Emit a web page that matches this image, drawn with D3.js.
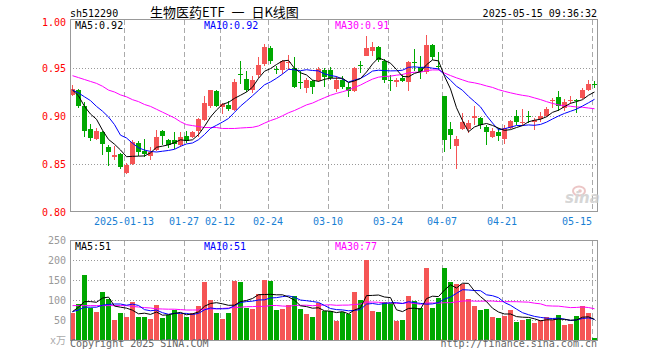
<!DOCTYPE html>
<html>
<head>
<meta charset="utf-8">
<script src="https://cdn.jsdelivr.net/npm/d3@7"></script>
<style>
  body { margin: 0; background: #fff; }
  text { font-family: "DejaVu Sans Mono", monospace; font-size: 10px; }
</style>
</head>
<body>
<div id="kline"></div>
<script>
// trading days shown (2024-12-30 .. 2025-05-15)
var dates = ["12-30","12-31","01-02","01-03","01-06","01-07","01-08","01-09","01-10",
  "01-13","01-14","01-15","01-16","01-17","01-20","01-21","01-22","01-23","01-24",
  "01-27","02-05","02-06","02-07","02-10","02-11","02-12","02-13","02-14",
  "02-17","02-18","02-19","02-20","02-21","02-24","02-25","02-26","02-27","02-28",
  "03-03","03-04","03-05","03-06","03-07","03-10","03-11","03-12","03-13","03-14",
  "03-17","03-18","03-19","03-20","03-21","03-24","03-25","03-26","03-27","03-28",
  "03-31","04-01","04-02","04-03","04-07","04-08","04-09","04-10","04-11",
  "04-14","04-15","04-16","04-17","04-18","04-21","04-22","04-23","04-24","04-25",
  "04-28","04-29","04-30","05-06","05-07","05-08","05-09","05-12","05-13","05-14","05-15"];

var open  = [0.922,0.927,0.910,0.886,0.876,0.883,0.868,0.857,0.860,0.841,
  0.850,0.872,0.864,0.858,0.865,0.884,0.875,0.875,0.870,0.879,
  0.878,0.884,0.896,0.910,0.926,0.909,0.911,0.906,0.944,0.939,
  0.927,0.943,0.954,0.971,0.949,0.948,0.955,0.950,0.935,0.929,
  0.936,0.936,0.948,0.948,0.928,0.938,0.930,0.926,0.953,0.963,
  0.968,0.972,0.957,0.938,0.935,0.940,0.935,0.956,0.951,0.946,
  0.974,0.952,0.921,0.886,0.869,0.886,0.886,0.898,0.898,0.889,
  0.878,0.883,0.876,0.887,0.900,0.893,0.900,0.894,0.897,0.900,
  0.916,0.920,0.908,0.916,0.917,0.919,0.927,0.933];
var high  = [0.932,0.928,0.915,0.892,0.887,0.884,0.870,0.869,0.861,0.851,
  0.875,0.874,0.876,0.868,0.885,0.885,0.876,0.883,0.883,0.884,
  0.884,0.898,0.921,0.927,0.927,0.914,0.916,0.939,0.957,0.947,
  0.942,0.961,0.975,0.973,0.952,0.958,0.964,0.961,0.947,0.940,
  0.938,0.951,0.950,0.951,0.942,0.942,0.934,0.951,0.957,0.983,
  0.977,0.973,0.959,0.943,0.940,0.944,0.957,0.970,0.962,0.984,
  0.975,0.967,0.921,0.894,0.879,0.903,0.896,0.910,0.899,0.891,
  0.887,0.887,0.891,0.896,0.906,0.907,0.905,0.898,0.904,0.909,
  0.919,0.926,0.918,0.921,0.918,0.929,0.937,0.936];
var low   = [0.921,0.908,0.878,0.874,0.875,0.859,0.848,0.854,0.845,0.840,
  0.849,0.858,0.857,0.854,0.864,0.870,0.867,0.866,0.868,0.872,
  0.877,0.878,0.895,0.908,0.909,0.902,0.905,0.905,0.933,0.925,
  0.924,0.940,0.952,0.954,0.944,0.944,0.948,0.929,0.928,0.924,
  0.923,0.935,0.930,0.937,0.925,0.928,0.920,0.925,0.945,0.962,
  0.963,0.956,0.934,0.926,0.930,0.935,0.926,0.947,0.939,0.944,
  0.958,0.948,0.863,0.866,0.845,0.885,0.882,0.891,0.886,0.870,
  0.877,0.874,0.871,0.886,0.891,0.891,0.893,0.885,0.894,0.899,
  0.908,0.905,0.905,0.912,0.903,0.918,0.926,0.929];
var close = [0.928,0.910,0.884,0.877,0.884,0.871,0.862,0.859,0.847,0.849,
  0.873,0.863,0.860,0.863,0.878,0.879,0.870,0.871,0.878,0.874,
  0.883,0.897,0.914,0.927,0.910,0.913,0.907,0.935,0.943,0.927,
  0.938,0.953,0.972,0.957,0.948,0.957,0.956,0.930,0.934,0.937,
  0.930,0.949,0.941,0.940,0.937,0.930,0.926,0.950,0.952,0.971,
  0.972,0.958,0.937,0.937,0.938,0.936,0.956,0.955,0.946,0.974,
  0.961,0.951,0.875,0.880,0.876,0.894,0.893,0.900,0.891,0.883,
  0.884,0.879,0.888,0.895,0.894,0.894,0.899,0.896,0.900,0.907,
  0.917,0.910,0.915,0.917,0.916,0.927,0.933,0.932];

// volume, 万手
var volume = [68,90,162.5,81,70,120.5,102.5,50,67.5,57.5,
  95,57.5,57.5,52.5,87.5,55,62.5,75,65,57.5,
  67,86,146,100,67.5,52.5,67.5,148,145,81,
  77.5,115,150,147.5,75,77.5,87.5,110,77.5,65,
  57.5,92.5,72.5,72.5,47.5,70,65,120,100,200,
  72.5,70,95,92.5,47.5,50,110,97.5,80,180,
  80,105,180,145,140,140,102.5,85,75,77.5,
  57.5,55,60,75,45,50,52.5,42.5,50,57.5,
  50,62.5,37.5,40,60,85,67.5,5];

// moving average values before the window is full
var ma5Head  = [0.927,0.921,0.910,0.902];
var ma10Head = [0.927,0.924,0.920,0.916,0.910,0.905,0.899,0.891,0.880];
var ma30Head = [0.942,0.940,0.938,0.936,0.934,0.931,0.927,0.925,0.922,0.920,
  0.917,0.915,0.912,0.910,0.907,0.904,0.901,0.898,0.894,0.891,
  0.890,0.889,0.888,0.888,0.888,0.887,0.887,0.887,0.8875];
var vma5Head  = [71,82,96,96];
var vma10Head = [71,75,82,82,82,87,89,90,90];
var vma30Head = [86,86,86,86,86,86,86,86,86,86,84,82.5,81,80,78,77.5,77,77,76,75,
  75,75,77,77.5,78,79,80,81,82];

var priceTicks = [0.80, 0.85, 0.90, 0.95, 1.00];
var volTicks = [50, 100, 150, 200, 250];
var xTickDates  = ["01-13","01-27","02-12","02-24","03-10","03-24","04-07","04-21","05-15"];
var xTickLabels = ["2025-01-13","01-27","02-12","02-24","03-10","03-24","04-07","04-21","05-15"];
var priceMaText = ["MA5:0.92","MA10:0.92","MA30:0.91"];
var volMaText = ["MA5:51","MA10:51","MA30:77"];

var W = 660, H = 360;
var left = 70, right = 597;
var RED = "#f55555", GREEN = "#00a800";

function movingAvg(values, n, head) {
  return values.map(function(v, i) {
    if (i < n - 1) return head[i];
    return d3.mean(values.slice(i - n + 1, i + 1));
  });
}

var svg = d3.select("#kline").append("svg")
  .attr("width", W).attr("height", H);

var x = d3.scaleBand().domain(dates).range([left, right])
  .paddingInner(1/6).paddingOuter(0).align(0);
var y = d3.scaleLinear().domain([0.80, 1.00]).range([212, 20]);
var yv = d3.scaleLinear().domain([0, 250]).range([340, 240]);

function px(v) { return Math.round(v) + 0.5; }
function cx(d) { return x(d) + 2.5; }

// ---- grids ----
function vGrid(y0, y1) {
  svg.append("g").selectAll("line").data(xTickDates).enter().append("line")
    .attr("x1", function(d) { return x(d) + 0.5; })
    .attr("x2", function(d) { return x(d) + 0.5; })
    .attr("y1", y0).attr("y2", y1)
    .attr("stroke", "#aaa").attr("stroke-dasharray", "5,3");
}
vGrid(20, 211);
vGrid(241, 340);

svg.append("g").selectAll("line").data([0.85, 0.90, 0.95]).enter().append("line")
  .attr("x1", left).attr("x2", right)
  .attr("y1", function(d) { return px(y(d)); })
  .attr("y2", function(d) { return px(y(d)); })
  .attr("stroke", "#999").attr("stroke-dasharray", "1,2");
svg.append("g").selectAll("line").data([50, 100, 150, 200]).enter().append("line")
  .attr("x1", left).attr("x2", right)
  .attr("y1", function(d) { return px(yv(d)); })
  .attr("y2", function(d) { return px(yv(d)); })
  .attr("stroke", "#999").attr("stroke-dasharray", "1,2");

// ---- candles ----
var candles = dates.map(function(d, i) {
  return {date: d, o: open[i], h: high[i], l: low[i], c: close[i], v: volume[i]};
});
function col(d) { return d.c >= d.o ? RED : GREEN; }

var cg = svg.append("g");
cg.selectAll("line").data(candles).enter().append("line")
  .attr("x1", function(d) { return cx(d.date); })
  .attr("x2", function(d) { return cx(d.date); })
  .attr("y1", function(d) { return Math.round(y(d.h)); })
  .attr("y2", function(d) { return Math.round(y(d.l)); })
  .attr("stroke", col);
cg.selectAll("rect").data(candles).enter().append("rect")
  .attr("x", function(d) { return x(d.date); })
  .attr("width", x.bandwidth())
  .attr("y", function(d) { return Math.round(y(Math.max(d.o, d.c))); })
  .attr("height", function(d) {
    return Math.max(1, Math.round(y(Math.min(d.o, d.c))) - Math.round(y(Math.max(d.o, d.c))));
  })
  .attr("fill", col);

// ---- volume bars ----
svg.append("g").selectAll("rect").data(candles).enter().append("rect")
  .attr("x", function(d) { return x(d.date); })
  .attr("width", x.bandwidth())
  .attr("y", function(d) { return Math.round(yv(d.v)); })
  .attr("height", function(d) { return 341 - Math.round(yv(d.v)); })
  .attr("fill", col);

// ---- moving averages ----
function drawMA(vals, scale, color) {
  var line = d3.line()
    .x(function(v, i) { return cx(dates[i]); })
    .y(function(v) { return scale(v); });
  svg.append("path").datum(vals)
    .attr("d", line).attr("fill", "none")
    .attr("stroke", color).attr("stroke-width", 1);
}
drawMA(movingAvg(close, 30, ma30Head), y, "#ff00ff");
drawMA(movingAvg(close, 10, ma10Head), y, "#0000ff");
drawMA(movingAvg(close, 5, ma5Head), y, "#000");
drawMA(movingAvg(volume, 30, vma30Head), yv, "#ff00ff");
drawMA(movingAvg(volume, 10, vma10Head), yv, "#0000ff");
drawMA(movingAvg(volume, 5, vma5Head), yv, "#000");

// ---- frames ----
svg.append("rect").attr("x", 70.5).attr("y", 19.5).attr("width", 527).attr("height", 192)
  .attr("fill", "none").attr("stroke", "#999");
svg.append("rect").attr("x", 70.5).attr("y", 240.5).attr("width", 527).attr("height", 100)
  .attr("fill", "none").attr("stroke", "#999");

// ---- axes ----
var ya = svg.append("g").attr("transform", "translate(" + left + ",0)")
  .call(d3.axisLeft(y).tickValues(priceTicks).tickSize(0).tickPadding(4)
    .tickFormat(d3.format(".2f")));
ya.select(".domain").remove();
ya.selectAll("text").attr("fill", "#f00")
  .style("font-family", "'DejaVu Sans Mono', monospace").style("font-size", "10px");
ya.selectAll("text").filter(function(d) { return d === 1.00; }).attr("dy", "0.5em");

var yva = svg.append("g").attr("transform", "translate(" + left + ",0)")
  .call(d3.axisLeft(yv).tickValues(volTicks).tickSize(0).tickPadding(4)
    .tickFormat(d3.format("d")));
yva.select(".domain").remove();
yva.selectAll("text").attr("fill", "#999")
  .style("font-family", "'DejaVu Sans Mono', monospace").style("font-size", "10px");

svg.append("text").attr("x", 66).attr("y", 344).attr("text-anchor", "end")
  .attr("fill", "#aaa").style("font-family", "'DejaVu Sans Mono','Noto Sans CJK SC'")
  .text("x万");

svg.append("g").selectAll("text").data(xTickDates).enter().append("text")
  .attr("x", function(d) { return x(d); })
  .attr("y", 225)
  .attr("text-anchor", function(d, i) { return i === xTickDates.length - 1 ? "end" : "middle"; })
  .attr("fill", "#1a7fd4")
  .text(function(d, i) { return xTickLabels[i]; });

// ---- legends ----
var maColors = ["#000", "#0000ff", "#ff00ff"];
var maX = [75, 204, 335];
svg.append("g").selectAll("text").data(priceMaText).enter().append("text")
  .attr("x", function(d, i) { return maX[i]; }).attr("y", 29)
  .attr("fill", function(d, i) { return maColors[i]; })
  .text(function(d) { return d; });
svg.append("g").selectAll("text").data(volMaText).enter().append("text")
  .attr("x", function(d, i) { return maX[i]; }).attr("y", 250)
  .attr("fill", function(d, i) { return maColors[i]; })
  .text(function(d) { return d; });

// ---- header / footer ----
svg.append("text").attr("x", 70).attr("y", 16.5).attr("fill", "#000").text("sh512290");
svg.append("text").attr("x", 150).attr("y", 17)
  .style("font-family", "'Noto Sans CJK SC', sans-serif").style("font-size", "13px")
  .style("word-spacing", "4px").attr("fill", "#000")
  .text("生物医药ETF 一 日K线图");
svg.append("text").attr("x", 597).attr("y", 16.5).attr("text-anchor", "end")
  .attr("fill", "#000").text("2025-05-15 09:36:32");
svg.append("text").attr("x", 70).attr("y", 347).attr("fill", "#666")
  .text("Copyright 2025 SINA.COM");
svg.append("text").attr("x", 597).attr("y", 347).attr("text-anchor", "end")
  .attr("fill", "#666").text("http://finance.sina.com.cn");

// sina watermark
var wm = svg.append("g").attr("opacity", 0.8);
wm.append("ellipse").attr("cx", 579).attr("cy", 191).attr("rx", 6).attr("ry", 4.5)
  .attr("fill", "none").attr("stroke", "#e8b8b8").attr("stroke-width", 2);
wm.append("circle").attr("cx", 580).attr("cy", 191).attr("r", 1.8).attr("fill", "#e8b8b8");
wm.append("text").attr("x", 565).attr("y", 203)
  .style("font-family", "'DejaVu Sans', sans-serif").style("font-size", "15px")
  .style("font-style", "italic").style("font-weight", "bold")
  .attr("fill", "#ccc").text("sina");
</script>
</body>
</html>
